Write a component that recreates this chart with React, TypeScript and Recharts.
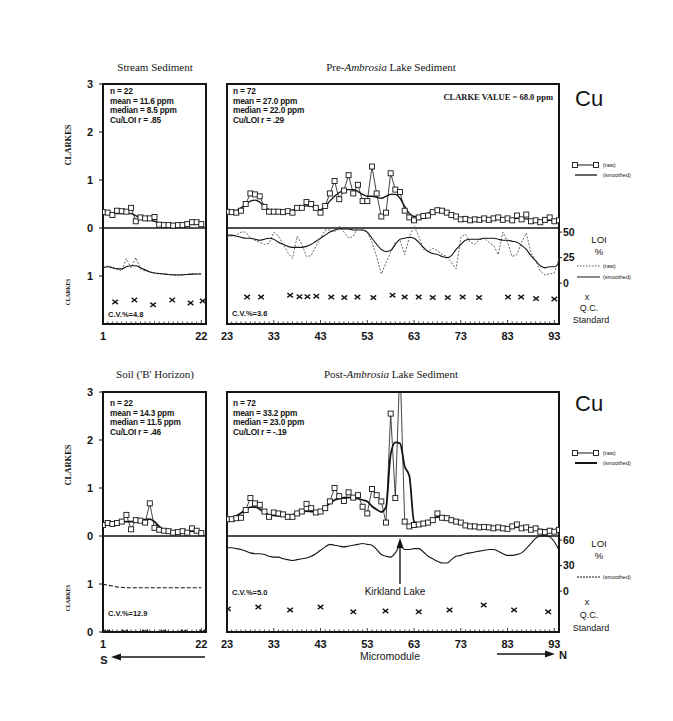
import React from "react";
import { ComposedChart, Line, Scatter, XAxis, YAxis, ReferenceArea, ReferenceLine } from "recharts";

const INK = "#151515";
const SANS = "Liberation Sans, Arial, sans-serif";
const SERIF = "Liberation Serif, Times New Roman, serif";

// ---- Stream sediment, sites 1-22
const streamRaw = [0.33, 0.32, 0.27, 0.36, 0.35, 0.34, 0.42, 0.14, 0.22, 0.2, 0.2, 0.23, 0.07, 0.06, 0.06, 0.05, 0.06, 0.06, 0.08, 0.12, 0.12, 0.08];
const streamSmooth = [0.32, 0.31, 0.3, 0.3, 0.3, 0.31, 0.3, 0.26, 0.21, 0.19, 0.17, 0.14, 0.1, 0.08, 0.07, 0.06, 0.06, 0.07, 0.08, 0.09, 0.09, 0.09];
const streamLoiRaw = [15, 17, 16, 14, 12, 24, 15, 25, 14, 12, 11, 10, 9, 9, 8.5, 8, 8, 8, 8.5, 9, 9, 9];
const streamLoiSmooth = [15, 16, 15, 14, 14, 16, 17, 17, 15, 13, 11, 10, 9.5, 9, 8.5, 8.2, 8, 8.2, 8.5, 8.8, 9, 9];
const streamQcX = [3.6, 7.7, 11.7, 15.8, 19.7, 22.3];
const streamQcY = [0.46, 0.5, 0.4, 0.5, 0.44, 0.48];

// ---- Pre-Ambrosia lake sediment, sites 23-94
const preRaw = [
  0.34, 0.33, 0.32, 0.36, 0.5, 0.72, 0.7, 0.66, 0.44, 0.34,
  0.34, 0.34, 0.33, 0.35, 0.32, 0.42, 0.42, 0.54, 0.5, 0.42,
  0.32, 0.46, 0.72, 0.98, 0.6, 0.78, 1.1, 0.72, 0.9, 0.56,
  0.56, 1.28, 0.72, 0.24, 0.32, 1.14, 0.8, 0.75, 0.36, 0.22,
  0.16, 0.22, 0.25, 0.26, 0.33, 0.37, 0.36, 0.32, 0.27, 0.24,
  0.18, 0.19, 0.16, 0.18, 0.17, 0.2, 0.17, 0.2, 0.22, 0.17,
  0.2, 0.16, 0.26, 0.18, 0.28, 0.14, 0.16, 0.12, 0.17, 0.22,
  0.14, 0.16,
];
const preSmooth = [
  0.32, 0.33, 0.36, 0.42, 0.5, 0.56, 0.58, 0.54, 0.45, 0.38,
  0.35, 0.34, 0.34, 0.35, 0.37, 0.41, 0.44, 0.46, 0.45, 0.41,
  0.38, 0.45, 0.56, 0.66, 0.74, 0.78, 0.8, 0.8, 0.76, 0.7,
  0.66, 0.66, 0.64, 0.62, 0.66, 0.7, 0.7, 0.62, 0.45, 0.3,
  0.24, 0.24, 0.27, 0.31, 0.35, 0.37, 0.36, 0.32, 0.27, 0.22,
  0.19, 0.18, 0.18, 0.18, 0.18, 0.18, 0.18, 0.18, 0.19, 0.19,
  0.19, 0.19, 0.2, 0.2, 0.19, 0.17, 0.15, 0.15, 0.15, 0.16,
  0.16, 0.16,
];
const preLoiRaw = [
  45, 46, 47, 50, 50, 44, 42, 40, 38, 39,
  50, 46, 38, 30, 24, 46, 38, 26, 27, 36,
  44, 52, 52, 50, 56, 50, 44, 46, 55, 52,
  50, 40, 26, 9, 20, 30, 40, 42, 28, 45,
  56, 46, 33, 31, 34, 32, 28, 26, 20, 14,
  45, 48, 40, 38, 43, 44, 40, 37, 28, 50,
  40, 26, 28, 40, 49, 30, 22, 12, 8, 9,
  10, 24,
];
const preLoiSmooth = [
  47, 47, 46, 45, 44, 44, 43, 42, 43, 44,
  43, 40, 38, 36, 35, 35, 35, 36, 38, 41,
  44, 47, 50, 52, 53, 53, 53, 52, 52, 52,
  50, 44, 38, 33, 31, 32, 38, 43, 44, 45,
  44, 40, 35, 31, 29, 28, 26, 25, 27, 33,
  38, 42, 43, 43, 43, 44, 44, 44, 43, 42,
  42, 41, 40, 37, 33, 27, 22, 17, 15, 16,
  16, 20,
];
const preQcX = [27.3, 30.3, 36.5, 38.5, 40.2, 42.1, 45.3, 48.1, 50.9, 54.3, 58.4, 61, 64, 67, 70.2, 73.4, 76.9, 83.1, 85.9, 89.1, 93];
const preQcY = [0.56, 0.56, 0.6, 0.57, 0.57, 0.58, 0.56, 0.55, 0.56, 0.55, 0.6, 0.56, 0.56, 0.55, 0.55, 0.56, 0.55, 0.56, 0.56, 0.53, 0.52];

// ---- Soil (B horizon), sites 1-22
const soilRaw = [0.23, 0.27, 0.25, 0.27, 0.3, 0.44, 0.14, 0.33, 0.32, 0.28, 0.68, 0.17, 0.13, 0.11, 0.1, 0.07, 0.08, 0.1, 0.07, 0.16, 0.11, 0.06];
const soilSmooth = [0.24, 0.25, 0.26, 0.27, 0.29, 0.3, 0.3, 0.3, 0.32, 0.34, 0.35, 0.3, 0.2, 0.12, 0.1, 0.09, 0.08, 0.08, 0.09, 0.1, 0.09, 0.07];
const soilLoiSmooth = [8, 7, 6, 5, 4.5, 4, 4, 4, 4, 4, 4, 4, 4, 4, 4, 4, 4, 4, 4, 4, 4, 4];
const soilQcX = [1.9, 5.7, 10, 13.9, 18.2, 22.2];
const soilQcY = [0, 0, 0, 0, 0, 0];

// ---- Post-Ambrosia lake sediment, sites 23-94
const postRaw = [
  0.35, 0.35, 0.37, 0.38, 0.54, 0.79, 0.68, 0.65, 0.51, 0.4,
  0.49, 0.47, 0.45, 0.4, 0.4, 0.47, 0.51, 0.67, 0.58, 0.49,
  0.51, 0.58, 0.72, 1.0, 0.83, 0.73, 0.91, 0.8, 0.85, 0.61,
  0.47, 0.98, 0.85, 0.72, 0.28, 2.55, 0.79, 3.6, 0.3, 0.2,
  0.23, 0.24, 0.26, 0.28, 0.33, 0.47, 0.38, 0.37, 0.33, 0.3,
  0.28, 0.22, 0.2, 0.2, 0.18, 0.19, 0.18, 0.16, 0.18, 0.16,
  0.15, 0.2, 0.24, 0.16, 0.18, 0.13, 0.16, 0.09, 0.08, 0.11,
  0.09, 0.13,
];
const postSmooth = [
  0.36, 0.38, 0.42, 0.48, 0.55, 0.6, 0.6, 0.56, 0.49, 0.44,
  0.43, 0.42, 0.42, 0.43, 0.44, 0.47, 0.5, 0.52, 0.51, 0.5,
  0.52, 0.6, 0.68, 0.75, 0.78, 0.8, 0.8, 0.8, 0.78, 0.75,
  0.72, 0.62, 0.55, 0.5, 0.6, 1.7, 1.95, 1.93, 1.45, 1.25,
  0.3, 0.25, 0.27, 0.3, 0.34, 0.4, 0.38, 0.35, 0.32, 0.29,
  0.26, 0.23, 0.2, 0.19, 0.18, 0.18, 0.18, 0.17, 0.17, 0.17,
  0.17, 0.18, 0.19, 0.18, 0.17, 0.16, 0.15, 0.13, 0.12, 0.12,
  0.12, 0.12,
];
const postLoiSmooth = [
  51, 51, 50, 49, 47, 45, 44, 44, 43, 41,
  40, 40, 38, 37, 36, 37, 38, 39, 41, 44,
  48, 52, 55, 54, 53, 52, 53, 54, 55, 56,
  55, 54, 49, 43, 41, 40, 45, 53, 49, 49,
  50, 50, 46, 41, 38, 35, 33, 33, 37, 41,
  42, 44, 45, 46, 47, 48, 49, 49, 47, 44,
  42, 42, 43, 45, 50, 56, 62, 65, 65, 64,
  58, 48,
];
const postQcX = [23.2, 29.7, 36.5, 43, 50, 56.9, 64, 70.6, 77.9, 84.4, 91.7];
const postQcY = [0.48, 0.52, 0.46, 0.52, 0.42, 0.44, 0.42, 0.46, 0.56, 0.46, 0.42];

const leftMajors = [1, 22];
const rightMajors = [23, 33, 43, 53, 63, 73, 83, 93];

type Row = { x: number; raw: number; smooth: number; loiRaw?: number; loiSmooth: number };

function rows(start: number, raw: number[], smooth: number[], loiSmooth: number[], loiRaw?: number[]): Row[] {
  return raw.map((v, i) => ({ x: start + i, raw: v, smooth: smooth[i], loiRaw: loiRaw ? loiRaw[i] : undefined, loiSmooth: loiSmooth[i] }));
}
function qcRows(xs: number[], ys: number[]) {
  return xs.map((x, i) => ({ x, qc: ys[i] }));
}

const PLOT_H = 240;

function RulerTick(props: any) {
  const { x, y, payload, majors } = props;
  const v = payload.value;
  const major = majors.includes(v);
  return (
    <g>
      <line x1={x} x2={x} y1={y} y2={y - (major ? 4 : 2.5)} stroke={INK} strokeWidth={0.8} />
      {major && (
        <text x={x} y={y + 16} textAnchor="middle" fontSize={11} fontWeight={700} fontFamily={SANS} fill={INK}>
          {v}
        </text>
      )}
    </g>
  );
}

const squareDot = (d: any) => {
  if (d.cy == null || isNaN(d.cy)) return <g key={`sq-${d.index}`} />;
  return <rect key={`sq-${d.index}`} x={d.cx - 2.5} y={d.cy - 2.5} width={5} height={5} fill="#fff" stroke={INK} strokeWidth={0.9} />;
};

const XMark = (d: any) => (
  <g>
    <line x1={d.cx - 2.8} y1={d.cy - 2.2} x2={d.cx + 2.8} y2={d.cy + 2.2} stroke={INK} strokeWidth={1.4} />
    <line x1={d.cx - 2.8} y1={d.cy + 2.2} x2={d.cx + 2.8} y2={d.cy - 2.2} stroke={INK} strokeWidth={1.4} />
  </g>
);

interface PanelProps {
  plotX: number;
  plotY: number;
  plotW: number;
  xMin: number;
  xMax: number;
  majors: number[];
  data: Row[];
  qc: { x: number; qc: number }[];
  yTicks: number[];
  labelled: boolean;
  loiTicks?: number[];
  loiDomain: [number, number];
  loiRaw?: boolean;
  loiDash?: string;
  boldSmooth?: boolean;
}

function Panel(p: PanelProps) {
  const m = 2;
  const mt = 10;
  const leftW = p.labelled ? 30 : 4;
  const rightW = p.loiTicks ? 24 : 0;
  const width = m + leftW + p.plotW + rightW + m;
  const height = mt + PLOT_H + 20 + m;
  const ticks: number[] = [];
  for (let v = p.xMin; v <= p.xMax; v++) ticks.push(v);
  return (
    <div style={{ position: "absolute", left: p.plotX - m - leftW, top: p.plotY - mt }}>
      <ComposedChart width={width} height={height} data={p.data} margin={{ top: mt, right: m, bottom: m, left: m }}>
        <XAxis
          dataKey="x"
          type="number"
          domain={[p.xMin, p.xMax]}
          ticks={ticks}
          interval={0}
          height={20}
          tickSize={0}
          tickMargin={0}
          axisLine={false}
          tickLine={false}
          allowDataOverflow
          tick={(t: any) => <RulerTick {...t} majors={p.majors} />}
        />
        <YAxis
          yAxisId="cu"
          type="number"
          domain={[-2, 3]}
          ticks={p.yTicks}
          interval={0}
          allowDataOverflow
          width={leftW}
          axisLine={false}
          stroke={INK}
          tickLine={{ stroke: INK, strokeWidth: 1 }}
          tickSize={4}
          tickMargin={6}
          tick={p.labelled ? { fontSize: 11, fontWeight: 700, fill: INK, fontFamily: SANS } : false}
          tickFormatter={(v: number) => String(v < 0 ? v + 2 : v)}
        />
        <YAxis yAxisId="qc" hide type="number" domain={[0, 5]} dataKey="qc" allowDataOverflow />
        <YAxis
          yAxisId="loi"
          orientation="right"
          type="number"
          domain={p.loiDomain}
          allowDataOverflow
          hide={!p.loiTicks}
          ticks={p.loiTicks}
          interval={0}
          width={rightW}
          axisLine={false}
          stroke={INK}
          tickLine={{ stroke: INK, strokeWidth: 1 }}
          tickSize={3}
          tickMargin={1}
          tick={{ fontSize: 10.5, fontWeight: 700, fill: INK, fontFamily: SANS, textAnchor: "start" }}
        />
        <ReferenceArea yAxisId="cu" x1={p.xMin} x2={p.xMax} y1={-2} y2={3} fill="none" stroke={INK} strokeWidth={2} />
        <ReferenceLine yAxisId="cu" y={0} stroke={INK} strokeWidth={1.6} />
        {p.loiRaw && (
          <Line yAxisId="loi" dataKey="loiRaw" type="linear" stroke="#555" strokeWidth={0.9} strokeDasharray="2 1.5" dot={false} isAnimationActive={false} />
        )}
        <Line yAxisId="loi" dataKey="loiSmooth" type="monotone" stroke={INK} strokeWidth={1.1} strokeDasharray={p.loiDash} dot={false} isAnimationActive={false} />
        <Line yAxisId="cu" dataKey="smooth" type="monotone" stroke={INK} strokeWidth={p.boldSmooth ? 1.8 : 1.4} dot={false} isAnimationActive={false} />
        <Line yAxisId="cu" dataKey="raw" type="linear" stroke={INK} strokeWidth={0.8} dot={squareDot} isAnimationActive={false} />
        <Scatter yAxisId="qc" data={p.qc} dataKey="qc" shape={XMark} isAnimationActive={false} />
      </ComposedChart>
    </div>
  );
}

function Stats({ x, y, lines }: { x: number; y: number; lines: string[] }) {
  return (
    <g fontFamily={SANS} fontWeight={700} fontSize={8.3} fill={INK} letterSpacing={-0.2}>
      {lines.map((t, i) => (
        <text key={i} x={x} y={y + i * 9.6}>
          {t}
        </text>
      ))}
    </g>
  );
}

function SquareLegend({ y }: { y: number }) {
  return (
    <g>
      <line x1={575} y1={y} x2={596} y2={y} stroke={INK} strokeWidth={1} />
      <rect x={572.5} y={y - 2.5} width={5} height={5} fill="#fff" stroke={INK} strokeWidth={0.9} />
      <rect x={593.5} y={y - 2.5} width={5} height={5} fill="#fff" stroke={INK} strokeWidth={0.9} />
      <text x={603} y={y + 2} fontSize={5.5} fontFamily={SANS} fill={INK}>(raw)</text>
    </g>
  );
}

function Overlay() {
  const t = { fontFamily: SANS, fill: INK };
  return (
    <svg width={673} height={721} style={{ position: "absolute", left: 0, top: 0, pointerEvents: "none" }}>
      {/* titles */}
      <text x={155} y={71} textAnchor="middle" fontSize={11} fontFamily={SERIF} fill={INK}>Stream Sediment</text>
      <text x={391} y={71} textAnchor="middle" fontSize={11} fontFamily={SERIF} fill={INK}>
        Pre-<tspan fontStyle="italic">Ambrosia</tspan> Lake Sediment
      </text>
      <text x={155} y={378} textAnchor="middle" fontSize={11} fontFamily={SERIF} fill={INK}>Soil ('B' Horizon)</text>
      <text x={391} y={378} textAnchor="middle" fontSize={11} fontFamily={SERIF} fill={INK}>
        Post-<tspan fontStyle="italic">Ambrosia</tspan> Lake Sediment
      </text>
      <text x={553} y={100} textAnchor="end" fontSize={8.5} fontWeight={700} fontFamily={SERIF} fill={INK}>CLARKE VALUE = 68.0 ppm</text>

      {/* stats */}
      <Stats x={110} y={94} lines={["n = 22", "mean = 11.6 ppm", "median = 8.5 ppm", "Cu/LOI r = .85"]} />
      <Stats x={233} y={94} lines={["n = 72", "mean = 27.0 ppm", "median = 22.0 ppm", "Cu/LOI r = .29"]} />
      <Stats x={110} y={406} lines={["n = 22", "mean = 14.3 ppm", "median = 11.5 ppm", "Cu/LOI r = .46"]} />
      <Stats x={233} y={406} lines={["n = 72", "mean = 33.2 ppm", "median = 23.0 ppm", "Cu/LOI r = -.19"]} />

      <text x={108} y={317} fontSize={7.5} fontWeight={700} {...t}>C.V.%=4.8</text>
      <text x={232} y={316} fontSize={7.5} fontWeight={700} {...t}>C.V.%=3.6</text>
      <text x={108} y={616} fontSize={7.5} fontWeight={700} {...t}>C.V.%=12.9</text>
      <text x={232} y={595} fontSize={7.5} fontWeight={700} {...t}>C.V.%=5.0</text>

      {/* axis names */}
      <text transform="translate(71,145) rotate(-90)" textAnchor="middle" fontSize={8.5} fontWeight={700} fontFamily={SERIF} fill={INK}>CLARKES</text>
      <text transform="translate(71,465) rotate(-90)" textAnchor="middle" fontSize={8.5} fontWeight={700} fontFamily={SERIF} fill={INK}>CLARKES</text>
      <text transform="translate(70,292) rotate(-90)" textAnchor="middle" fontSize={5.5} fontWeight={700} fontFamily={SERIF} fill={INK}>CLARKES</text>
      <text transform="translate(70,598) rotate(-90)" textAnchor="middle" fontSize={5.5} fontWeight={700} fontFamily={SERIF} fill={INK}>CLARKES</text>

      {/* Cu + legends, top */}
      <text x={575} y={106} fontSize={22} {...t}>Cu</text>
      <SquareLegend y={165} />
      <line x1={575} y1={175} x2={597} y2={175} stroke={INK} strokeWidth={1.3} />
      <text x={603} y={177} fontSize={5.5} {...t}>(smoothed)</text>
      <text x={599} y={243} textAnchor="middle" fontSize={9.5} {...t}>LOI</text>
      <text x={599} y={255} textAnchor="middle" fontSize={9.5} {...t}>%</text>
      <line x1={577} y1={266} x2={600} y2={266} stroke="#555" strokeWidth={1} strokeDasharray="1.5 1.5" />
      <text x={603} y={268} fontSize={5.5} {...t}>(raw)</text>
      <line x1={577} y1={277} x2={600} y2={277} stroke={INK} strokeWidth={1} />
      <text x={603} y={279} fontSize={5.5} {...t}>(smoothed)</text>
      <text x={587} y={300} textAnchor="middle" fontSize={9} {...t}>x</text>
      <text x={589} y={311} textAnchor="middle" fontSize={9} {...t}>Q.C.</text>
      <text x={591} y={323} textAnchor="middle" fontSize={9} {...t}>Standard</text>

      {/* Cu + legends, bottom */}
      <text x={575} y={411} fontSize={22} {...t}>Cu</text>
      <SquareLegend y={453} />
      <line x1={575} y1={463} x2={597} y2={463} stroke={INK} strokeWidth={2} />
      <text x={603} y={465} fontSize={5.5} {...t}>(smoothed)</text>
      <text x={599} y={547} textAnchor="middle" fontSize={9.5} {...t}>LOI</text>
      <text x={599} y={559} textAnchor="middle" fontSize={9.5} {...t}>%</text>
      <line x1={577} y1={577} x2={600} y2={577} stroke={INK} strokeWidth={1} strokeDasharray="2 1" />
      <text x={603} y={579} fontSize={5.5} {...t}>(smoothed)</text>
      <text x={587} y={605} textAnchor="middle" fontSize={9} {...t}>x</text>
      <text x={589} y={618} textAnchor="middle" fontSize={9} {...t}>Q.C.</text>
      <text x={591} y={631} textAnchor="middle" fontSize={9} {...t}>Standard</text>

      {/* Kirkland Lake arrow */}
      <line x1={400} y1={584} x2={400} y2={546} stroke={INK} strokeWidth={1.4} />
      <polygon points="400,538 396.5,548 403.5,548" fill={INK} />
      <text x={395} y={595} textAnchor="middle" fontSize={10} {...t}>Kirkland Lake</text>

      {/* S / N direction */}
      <text x={104} y={664} textAnchor="middle" fontSize={11} fontWeight={700} {...t}>S</text>
      <line x1={118} y1={657} x2={205} y2={657} stroke={INK} strokeWidth={1.4} />
      <polygon points="111,657 121,653.5 121,660.5" fill={INK} />
      <text x={390} y={660} textAnchor="middle" fontSize={10.5} {...t}>Micromodule</text>
      <line x1={497} y1={654} x2={547} y2={654} stroke={INK} strokeWidth={1.4} />
      <polygon points="555,654 545,650.5 545,657.5" fill={INK} />
      <text x={563} y={659} textAnchor="middle" fontSize={11} fontWeight={700} {...t}>N</text>
    </svg>
  );
}

export default function App() {
  const topLoi: [number, number] = [-40, 195];
  const botLoi: [number, number] = [-48, 234];
  return (
    <div style={{ position: "absolute", left: 0, top: 0, width: 673, height: 721, background: "#fff", overflow: "hidden" }}>
      <Panel
        plotX={103} plotY={84} plotW={103} xMin={1} xMax={23} majors={leftMajors}
        data={rows(1, streamRaw, streamSmooth, streamLoiSmooth, streamLoiRaw)}
        qc={qcRows(streamQcX, streamQcY)}
        yTicks={[-1, 0, 1, 2, 3]} labelled loiDomain={topLoi} loiRaw
      />
      <Panel
        plotX={227} plotY={84} plotW={332} xMin={23} xMax={94} majors={rightMajors}
        data={rows(23, preRaw, preSmooth, preLoiSmooth, preLoiRaw)}
        qc={qcRows(preQcX, preQcY)}
        yTicks={[-1, 0, 1, 2, 3]} labelled={false} loiTicks={[0, 25, 50]} loiDomain={topLoi} loiRaw
      />
      <Panel
        plotX={103} plotY={392} plotW={103} xMin={1} xMax={23} majors={leftMajors}
        data={rows(1, soilRaw, soilSmooth, soilLoiSmooth)}
        qc={qcRows(soilQcX, soilQcY)}
        yTicks={[-2, -1, 0, 1, 2, 3]} labelled loiDomain={botLoi} loiDash="4 2" boldSmooth
      />
      <Panel
        plotX={227} plotY={392} plotW={332} xMin={23} xMax={94} majors={rightMajors}
        data={rows(23, postRaw, postSmooth, postLoiSmooth)}
        qc={qcRows(postQcX, postQcY)}
        yTicks={[-2, -1, 0, 1, 2, 3]} labelled={false} loiTicks={[0, 30, 60]} loiDomain={botLoi} boldSmooth
      />
      <Overlay />
    </div>
  );
}
